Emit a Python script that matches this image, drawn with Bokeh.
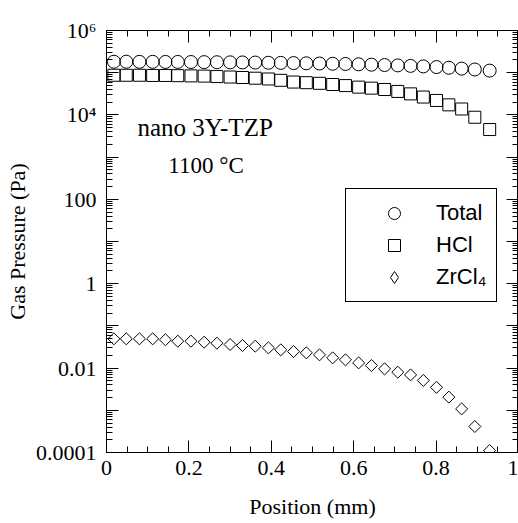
import math
from bokeh.plotting import figure
from bokeh.models import (FixedTicker, SingleIntervalTicker, LinearAxis, LogAxis,
                          Label, Legend, LegendItem)
from bokeh.embed import file_html
from bokeh.resources import INLINE

# ---- data ----
position_mm = [0.018, 0.048, 0.080, 0.112, 0.143, 0.173, 0.205, 0.237, 0.268, 0.300,
               0.330, 0.361, 0.393, 0.423, 0.454, 0.485, 0.517, 0.549, 0.580, 0.612,
               0.643, 0.675, 0.707, 0.738, 0.769, 0.801, 0.831, 0.862, 0.894, 0.930]
total_pa = [1.82e5, 1.82e5, 1.81e5, 1.81e5, 1.80e5, 1.80e5, 1.79e5, 1.78e5, 1.77e5, 1.76e5,
            1.75e5, 1.74e5, 1.72e5, 1.71e5, 1.69e5, 1.67e5, 1.65e5, 1.63e5, 1.61e5, 1.58e5,
            1.55e5, 1.52e5, 1.49e5, 1.45e5, 1.41e5, 1.36e5, 1.31e5, 1.25e5, 1.19e5, 1.12e5]
hcl_pa = [8.7e4, 8.7e4, 8.7e4, 8.6e4, 8.6e4, 8.5e4, 8.4e4, 8.3e4, 8.1e4, 7.9e4,
          7.7e4, 7.4e4, 7.1e4, 6.6e4, 6.0e4, 5.8e4, 5.6e4, 5.25e4, 4.95e4, 4.55e4,
          4.3e4, 4.0e4, 3.6e4, 3.15e4, 2.65e4, 2.2e4, 1.73e4, 1.38e4, 8.8e3, 4.5e3]
zrcl4_pa = [0.0494, 0.0494, 0.0494, 0.0494, 0.0469, 0.0434, 0.0434, 0.0411, 0.0389, 0.0362,
            0.0343, 0.0330, 0.0302, 0.0271, 0.0247, 0.0230, 0.0206, 0.0175, 0.0157, 0.0133,
            0.0115, 0.0096, 0.0080, 0.0069, 0.0051, 0.0035, 0.00205, 0.00108, 0.000413, 0.000111]

series_names = ["Total", "HCl", "ZrCl\u2084"]
y_decades = [1e-4, 1e-3, 1e-2, 1e-1, 1, 10, 100, 1e3, 1e4, 1e5, 1e6]
y_tick_labels = ["0.0001", " ", "0.01", " ", "1", " ", "100", " ", "10\u2074", " ", "10\u2076"]
annotation_1 = "nano 3Y-TZP"
annotation_2 = "1100 \u00b0C"

SERIF = "Liberation Serif"
SANS = "Liberation Sans"

p = figure(width=518, height=523, output_backend="svg", toolbar_location=None,
           y_axis_type="log", x_range=(0, 1), y_range=(1e-4, 1e6),
           min_border_left=106, min_border_top=30, min_border_bottom=71, min_border_right=0)
p.grid.visible = False
p.outline_line_color = "black"
p.background_fill_color = "white"
p.border_fill_color = "white"

x_ticker = SingleIntervalTicker(interval=0.2, num_minor_ticks=4)
minor_y = [k * d for d in y_decades[:-1] for k in range(2, 10)]
y_ticker = FixedTicker(ticks=y_decades, minor_ticks=minor_y)

def style_axis(ax):
    ax.axis_line_color = "black"
    ax.axis_line_width = 1
    ax.major_tick_in = 12
    ax.major_tick_out = 0
    ax.minor_tick_in = 6
    ax.minor_tick_out = 0
    ax.major_tick_line_color = "black"
    ax.minor_tick_line_color = "black"
    ax.major_label_text_font = SERIF
    ax.major_label_text_color = "black"
    ax.major_label_text_font_size = "22px"
    ax.axis_label_text_font = SERIF
    ax.axis_label_text_font_style = "normal"
    ax.axis_label_text_color = "black"
    ax.axis_label_text_font_size = "22px"

xa = p.xaxis[0]
xa.ticker = x_ticker
style_axis(xa)
xa.axis_label = "Position (mm)"
xa.major_label_standoff = 8
xa.axis_label_standoff = 16
xa.major_label_overrides = {0: "0", 1: "1"}

ya = p.yaxis[0]
ya.ticker = y_ticker
style_axis(ya)
ya.axis_label = "Gas Pressure (Pa)"
ya.major_label_standoff = 10
ya.axis_label_standoff = 3
ya.major_label_overrides = {v: s for v, s in zip(y_decades, y_tick_labels)}

top = LinearAxis(ticker=x_ticker)
style_axis(top)
top.major_label_text_alpha = 0
top.major_label_text_font_size = "1px"
top.major_label_standoff = 0
p.add_layout(top, "above")

right = LogAxis(ticker=y_ticker)
style_axis(right)
right.major_label_text_alpha = 0
right.major_label_text_font_size = "1px"
right.major_label_standoff = 0
p.add_layout(right, "right")

r_total = p.scatter(position_mm, total_pa, marker="circle", size=13,
                    line_color="black", line_width=1, fill_color=None)
r_hcl = p.scatter(position_mm, hcl_pa, marker="square", size=12,
                  line_color="black", line_width=1, fill_color=None)
r_zr = p.scatter(position_mm, zrcl4_pa, marker="square", size=8.5, angle=math.pi / 4,
                 line_color="black", line_width=1, fill_color=None)
# legend key for ZrCl4 (diamond shape; the rotated square is not rotated in legends)
r_zr_key = p.scatter(position_mm, zrcl4_pa, marker="diamond", size=13, visible=False,
                     line_color="black", line_width=1, fill_color=None)

legend = Legend(items=[LegendItem(label=series_names[0], renderers=[r_total]),
                       LegendItem(label=series_names[1], renderers=[r_hcl]),
                       LegendItem(label=series_names[2], renderers=[r_zr_key])],
                location=(239, 150), orientation="vertical",
                border_line_color="black", border_line_width=1, border_line_alpha=1,
                background_fill_color="white", background_fill_alpha=1,
                label_text_font=SANS, label_text_font_size="22px", label_text_color="black",
                glyph_width=78, glyph_height=30, padding=9, spacing=2,
                label_standoff=3, margin=0)
p.add_layout(legend)

p.add_layout(Label(x=0.075, y=5100, text=annotation_1, text_font=SERIF,
                   text_font_size="25px", text_color="black", text_baseline="alphabetic"))
p.add_layout(Label(x=0.150, y=632, text=annotation_2, text_font=SERIF,
                   text_font_size="23px", text_color="black", text_baseline="alphabetic"))

open("out.html", "w").write(file_html(p, INLINE))
